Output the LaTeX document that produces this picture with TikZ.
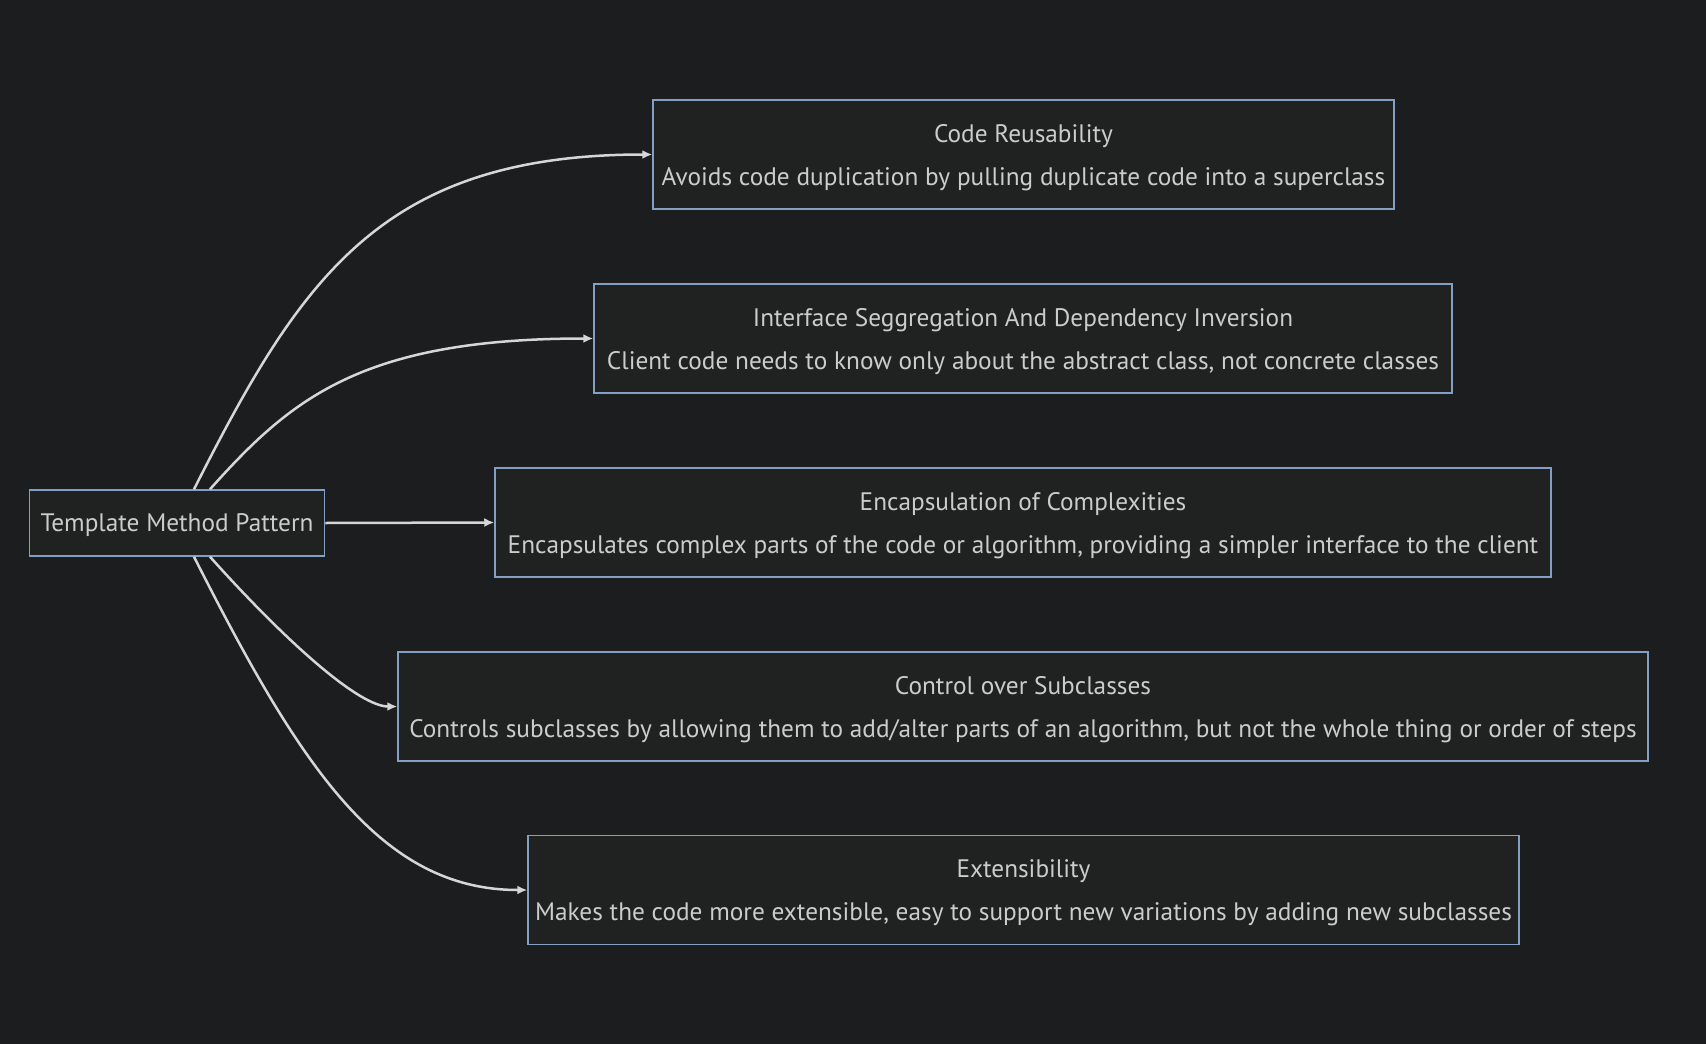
\documentclass[tikz,border=0pt]{standalone}
\usepackage{fontspec}
\setmainfont{PT Sans}
\usetikzlibrary{arrows.meta}
\definecolor{bgcol}{RGB}{28,29,31}
\definecolor{boxfill}{RGB}{32,33,33}
\definecolor{boxline}{RGB}{129,160,196}
\definecolor{txtcol}{RGB}{204,204,204}
\definecolor{edgecol}{RGB}{214,214,214}
\tikzset{
  box/.style={draw=boxline, fill=boxfill, line width=1.5pt, text=txtcol, align=center,
    inner sep=0pt, text depth=0pt, minimum height=109pt, font=\fontsize{25.3}{43}\selectfont},
  link/.style={draw=edgecol, line width=2.5pt, -{Latex[length=10pt,width=9pt]}}
}
\begin{document}
\begin{tikzpicture}[x=1pt,y=-1pt]
		\fill[bgcol] (0,0) rectangle (1706,1044);
		\useasboundingbox (0,0) rectangle (1706,1044);
		
		\node[box, minimum width=295pt, minimum height=66pt] (tmp) at (177,523) {Template Method Pattern};
		
		\node[box, minimum width=741pt] (reuse) at (1023.5,154.5) {Code Reusability\\Avoids code duplication by pulling duplicate code into a superclass};
		\node[box, minimum width=858pt] (isp) at (1023,338.5) {Interface Seggregation And Dependency Inversion\\Client code needs to know only about the abstract class, not concrete classes};
		\node[box, minimum width=1056pt] (encap) at (1023,522.5) {Encapsulation of Complexities\\Encapsulates complex parts of the code or algorithm, providing a simpler interface to the client};
		\node[box, minimum width=1250pt] (ctrl) at (1023,706.5) {Control over Subclasses\\Controls subclasses by allowing them to add/alter parts of an algorithm, but not the whole thing or order of steps};
		\node[box, minimum width=991pt] (ext) at (1023.5,890) {Extensibility\\Makes the code more extensible, easy to support new variations by adding new subclasses};
		
		\draw[link] ([xshift=17pt]tmp.north) .. controls (300,280) and (380,154.5) .. (reuse.west);
		\draw[link] ([xshift=33pt]tmp.north) .. controls (290,400) and (360,338.5) .. (isp.west);
		\draw[link] (tmp.east) to (encap.west);
		\draw[link] ([xshift=33pt]tmp.south) .. controls (290,646) and (360,706.5) .. (ctrl.west);
		\draw[link] ([xshift=17pt]tmp.south) .. controls (300,766) and (380,890) .. (ext.west);
    \end{tikzpicture}
\end{document}
